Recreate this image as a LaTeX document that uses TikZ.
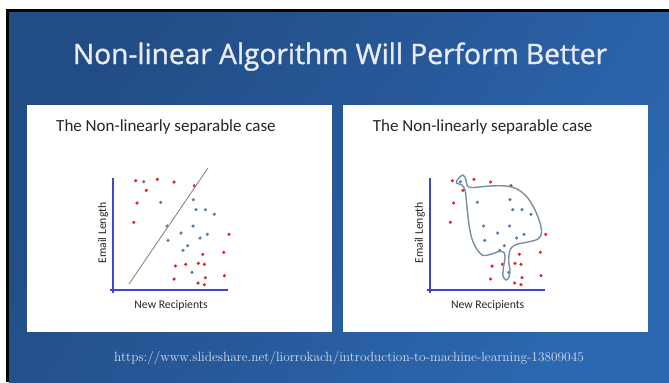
\documentclass[tikz,border=0pt]{standalone}
\usepackage{fontspec}
\newfontfamily\titlefont[FakeBold=1.2]{Open Sans}
\newfontfamily\slidefont{Carlito}
\definecolor{slidedark}{HTML}{224C84}
\definecolor{slidemid}{HTML}{2A62AA}
\definecolor{slidelight}{HTML}{2C67B1}
\definecolor{titlegray}{HTML}{E8ECF2}
\definecolor{axisblue}{HTML}{4444C8}
\definecolor{dotred}{HTML}{E02828}
\definecolor{dotblue}{HTML}{5B80A8}
\definecolor{hullgray}{HTML}{7890A4}

\begin{document}
\begin{tikzpicture}[x=0.03cm,y=-0.03cm,
  panel/.style={fill=white,draw=none},
  axis line/.style={draw=axisblue,line width=1.5pt},
  case text/.style={font=\slidefont\fontsize{14.5}{16}\selectfont,text=black!85,inner sep=0pt},
  axis text/.style={font=\slidefont\fontsize{10}{11}\selectfont,text=black!85,inner sep=0pt},
  red dot/.style={fill=dotred},
  blue dot/.style={fill=dotblue}]

  \useasboundingbox (0,0) rectangle (669,382);
  \fill[white] (0,0) rectangle (669,382);
  \fill[black] (6,9) rectangle (669,382);
  \shade[top color=slidedark,middle color=slidemid,bottom color=slidelight,shading angle=55] (9,12) rectangle (669,382);

  \node[font=\titlefont\fontsize{24}{26}\selectfont,text=titlegray,anchor=base] (title) at (340,64) {Non-linear Algorithm Will Perform Better};

  \fill[panel] (27,105) rectangle (332,332);
  \fill[panel] (343,105) rectangle (648,332);

  \foreach \sx/\nm in {0/left,316.7/right}{
    \begin{scope}[shift={(\sx,0)}]
      \node[case text,anchor=base west] (case-\nm) at (56,131.5) {The Non-linearly separable case};
      \node[axis text] (xlabel-\nm) at (171,305) {New Recipients};
      \node[axis text,rotate=90] (ylabel-\nm) at (103,233) {Email Length};
      \draw[axis line] (113.3,178) -- (113.3,293);
      \draw[axis line] (110,290) -- (228.3,290);
      \foreach \px/\py in {135.7/180.7,157.3/179.3,174/182,194.3/185.7,146.3/190.3,137/203,133.7/222.3,
          229/234.3,202.7/254.3,223.7/252.3,175.3/266,185.7/264.3,198.3/263.3,204.3/264.3,
          174/279,205.3/277.7,224.3/275.7,198/283,204.3/284.7}
        \fill[red dot] (\px,\py) circle (1.5pt);
      \foreach \px/\py in {143.7/181.7,193.3/199.7,160.7/202.3,196/209.7,205.3/209.7,214.3/214.3,
          167/226,193/226,181/233,207.3/234.3,200/238,168/240.3,187.7/245.7,183/250.3,192/272.3}
        \fill[blue dot] (\px,\py) circle (1.5pt);
    \end{scope}
  }

  \draw[black!45,line width=0.8pt] (129,284) -- (208,168);

  \draw[hullgray,line width=1.2pt] plot[smooth cycle,tension=0.55] coordinates {
    (463,175) (466,180) (467.5,186) (473,187.5) (490,186) (506,186) (517,189) (527,197)
    (535,210) (540,223) (541.5,233) (538,239) (528,242) (518,244) (512,247) (509.5,252)
    (508.7,262) (510,270) (509,277) (506,280) (503,276) (503.5,267) (505,258) (504,252.5)
    (499,251.5) (490,254.5) (483,255.5) (477,249.5) (472,239) (469,225) (467.3,210)
    (466,197) (465,190) (462,185) (456.5,183) (458,179)};

  \node[font=\fontsize{11.4}{13}\selectfont,text=titlegray!90!slidelight] (source) at (349,358) {https://www.slideshare.net/liorrokach/introduction-to-machine-learning-13809045};
\end{tikzpicture}
\end{document}
